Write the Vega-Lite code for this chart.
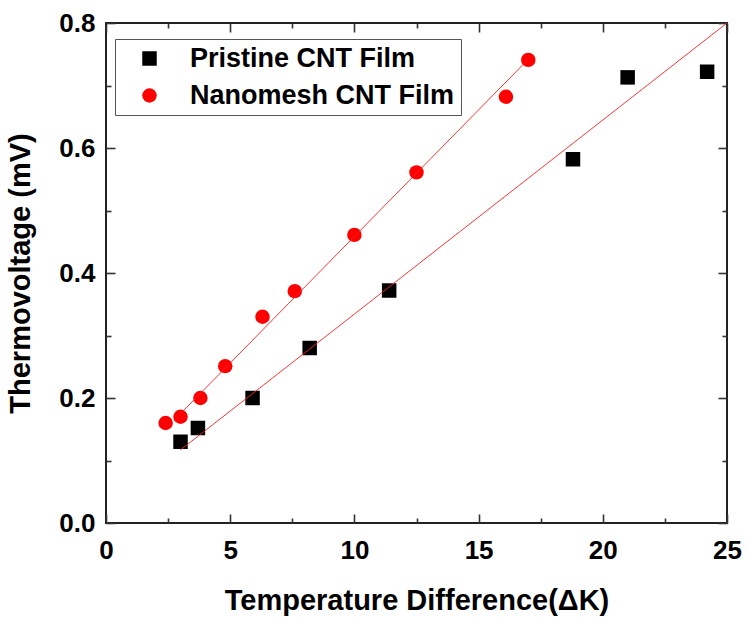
{
  "$schema": "https://vega.github.io/schema/vega-lite/v6.json",
  "width": 621,
  "height": 500,
  "autosize": {"type": "none"},
  "padding": {"left": 106, "top": 23, "right": 21, "bottom": 95},
  "background": "white",
  "config": {
    "view": {"stroke": "#222", "strokeWidth": 2},
    "font": "Liberation Sans",
    "axis": {
      "domain": false,
      "grid": false,
      "tickColor": "#333",
      "tickWidth": 1.6,
      "labelFont": "Liberation Sans",
      "labelFontWeight": "bold",
      "labelFontSize": 26,
      "labelColor": "#000",
      "titleFont": "Liberation Sans",
      "titleFontWeight": "bold",
      "titleFontSize": 29,
      "titleColor": "#000",
      "labelFlush": false,
      "labelOverlap": false
    },
    "legend": {
      "labelFont": "Liberation Sans",
      "labelFontWeight": "bold",
      "labelFontSize": 27,
      "labelColor": "#000",
      "labelLimit": 0
    }
  },
  "datasets": {
    "pts": [
      {"series": "Pristine CNT Film", "dT": 3.0, "V": 0.13},
      {"series": "Pristine CNT Film", "dT": 3.7, "V": 0.152},
      {"series": "Pristine CNT Film", "dT": 5.9, "V": 0.20},
      {"series": "Pristine CNT Film", "dT": 8.2, "V": 0.28},
      {"series": "Pristine CNT Film", "dT": 11.4, "V": 0.372},
      {"series": "Pristine CNT Film", "dT": 18.8, "V": 0.582},
      {"series": "Pristine CNT Film", "dT": 21.0, "V": 0.713},
      {"series": "Pristine CNT Film", "dT": 24.2, "V": 0.722},
      {"series": "Nanomesh CNT Film", "dT": 2.4, "V": 0.16},
      {"series": "Nanomesh CNT Film", "dT": 3.0, "V": 0.17},
      {"series": "Nanomesh CNT Film", "dT": 3.8, "V": 0.20},
      {"series": "Nanomesh CNT Film", "dT": 4.8, "V": 0.251},
      {"series": "Nanomesh CNT Film", "dT": 6.3, "V": 0.33},
      {"series": "Nanomesh CNT Film", "dT": 7.6, "V": 0.371},
      {"series": "Nanomesh CNT Film", "dT": 10.0, "V": 0.461},
      {"series": "Nanomesh CNT Film", "dT": 12.5, "V": 0.561},
      {"series": "Nanomesh CNT Film", "dT": 16.1, "V": 0.682},
      {"series": "Nanomesh CNT Film", "dT": 17.0, "V": 0.741}
    ],
    "fits": [
      {"series": "Pristine CNT Film", "dT": 3.0, "V": 0.117},
      {"series": "Pristine CNT Film", "dT": 25.0, "V": 0.80},
      {"series": "Nanomesh CNT Film", "dT": 3.0, "V": 0.175},
      {"series": "Nanomesh CNT Film", "dT": 17.0, "V": 0.742}
    ]
  },
  "layer": [
    {
      "data": {"name": "pts"},
      "mark": {"type": "point", "filled": true, "opacity": 1, "size": 210},
      "encoding": {
        "x": {
          "field": "dT", "type": "quantitative",
          "scale": {"domain": [0, 25], "nice": false, "zero": false},
          "axis": {"orient": "bottom", "values": [0, 5, 10, 15, 20, 25], "format": "d", "tickSize": -9, "labelPadding": 23, "title": "Temperature Difference(ΔK)", "titlePadding": 23}
        },
        "y": {
          "field": "V", "type": "quantitative",
          "scale": {"domain": [0, 0.8], "nice": false, "zero": false},
          "axis": {"orient": "left", "values": [0, 0.2, 0.4, 0.6, 0.8], "format": ".1f", "tickSize": -9, "labelPadding": 20, "title": "Thermovoltage (mV)", "titlePadding": 23}
        },
        "color": {
          "field": "series", "type": "nominal",
          "scale": {"domain": ["Pristine CNT Film", "Nanomesh CNT Film"], "range": ["#000000", "#ff0000"]},
          "legend": {"orient": "none", "legendX": 9, "legendY": 16, "title": null, "strokeColor": "#555", "fillColor": "white", "padding": 6, "symbolOffset": 15, "labelOffset": 27, "rowPadding": 9, "symbolSize": 210, "symbolStrokeWidth": 0}
        },
        "shape": {
          "field": "series", "type": "nominal",
          "scale": {"domain": ["Pristine CNT Film", "Nanomesh CNT Film"], "range": ["square", "circle"]},
          "legend": null
        }
      }
    },
    {
      "data": {"name": "fits"},
      "mark": {"type": "line", "color": "#ff2020", "strokeWidth": 0.9},
      "encoding": {
        "x": {
          "field": "dT", "type": "quantitative",
          "scale": {"domain": [0, 25], "nice": false, "zero": false},
          "axis": {"orient": "bottom", "values": [2.5, 7.5, 12.5, 17.5, 22.5], "tickSize": -5, "labels": false, "title": null}
        },
        "y": {
          "field": "V", "type": "quantitative",
          "scale": {"domain": [0, 0.8], "nice": false, "zero": false},
          "axis": {"orient": "left", "values": [0.1, 0.3, 0.5, 0.7], "tickSize": -5, "labels": false, "title": null}
        },
        "detail": {"field": "series", "type": "nominal"}
      }
    },
    {
      "data": {"name": "fits"},
      "mark": {"type": "point", "opacity": 0},
      "encoding": {
        "x": {
          "field": "dT", "type": "quantitative",
          "scale": {"domain": [0, 25], "nice": false, "zero": false},
          "axis": {"orient": "top", "values": [0, 5, 10, 15, 20, 25], "tickSize": -9, "labels": false, "title": null}
        },
        "y": {
          "field": "V", "type": "quantitative",
          "scale": {"domain": [0, 0.8], "nice": false, "zero": false},
          "axis": {"orient": "right", "values": [0, 0.2, 0.4, 0.6, 0.8], "tickSize": -9, "labels": false, "title": null}
        }
      }
    },
    {
      "data": {"name": "fits"},
      "mark": {"type": "point", "opacity": 0},
      "encoding": {
        "x": {
          "field": "dT", "type": "quantitative",
          "scale": {"domain": [0, 25], "nice": false, "zero": false},
          "axis": {"orient": "top", "values": [2.5, 7.5, 12.5, 17.5, 22.5], "tickSize": -5, "labels": false, "title": null}
        },
        "y": {
          "field": "V", "type": "quantitative",
          "scale": {"domain": [0, 0.8], "nice": false, "zero": false},
          "axis": {"orient": "right", "values": [0.1, 0.3, 0.5, 0.7], "tickSize": -5, "labels": false, "title": null}
        }
      }
    }
  ],
  "resolve": {"scale": {"x": "independent", "y": "independent"}, "axis": {"x": "independent", "y": "independent"}}
}
